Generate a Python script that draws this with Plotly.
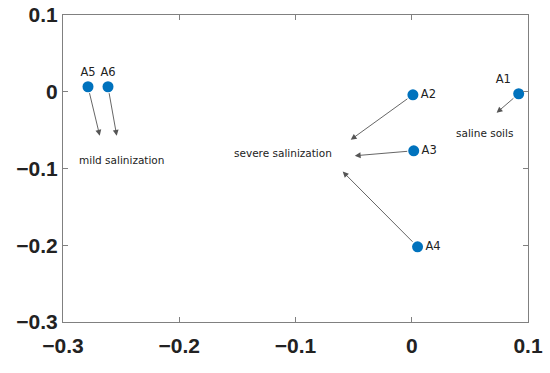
import plotly.graph_objects as go

# Sample points
names = ["A1", "A2", "A3", "A4", "A5", "A6"]
x_vals = [0.092, 0.001, 0.0017, 0.005, -0.2785, -0.2613]
y_vals = [-0.0026, -0.004, -0.0769, -0.202, 0.0065, 0.0065]

# Arrow heads (one per sample)
head_x = [0.073, -0.0525, -0.049, -0.0594, -0.2684, -0.2538]
head_y = [-0.0274, -0.0625, -0.0834, -0.104, -0.0573, -0.0573]

# Group labels
group_text = ["saline soils", "severe salinization", "mild salinization"]
group_x = [0.0628, -0.111, -0.2495]
group_y = [-0.0534, -0.0795, -0.0886]

x_ticks = [-0.3, -0.2, -0.1, 0, 0.1]
x_ticktext = ["\u22120.3", "\u22120.2", "\u22120.1", "0", "0.1"]
y_ticks = [-0.3, -0.2, -0.1, 0, 0.1]
y_ticktext = ["\u22120.3", "\u22120.2", "\u22120.1", "0", "0.1"]

label_pos = ["top left", "middle right", "middle right", "middle right", "top center", "top center"]

fig = go.Figure()
fig.add_trace(go.Scatter(
    x=x_vals, y=y_vals, mode="markers+text",
    text=names, textposition=label_pos,
    textfont=dict(family="DejaVu Sans", size=11.5, color="#222"),
    marker=dict(size=11, color="#0072BD"),
    cliponaxis=False, showlegend=False, hoverinfo="skip",
))

for hx, hy, tx, ty in zip(head_x, head_y, x_vals, y_vals):
    fig.add_annotation(
        x=hx, y=hy, ax=tx, ay=ty, xref="x", yref="y", axref="x", ayref="y",
        showarrow=True, arrowhead=2, arrowsize=1.3, arrowwidth=0.9,
        arrowcolor="#555555", text="", standoff=0, startstandoff=5,
    )

for t, gx, gy in zip(group_text, group_x, group_y):
    fig.add_annotation(
        x=gx, y=gy, xref="x", yref="y", text=t, showarrow=False,
        font=dict(family="DejaVu Sans", size=10.5, color="#222"),
    )

axis_common = dict(
    showgrid=False, zeroline=False, showline=True, linecolor="#808080",
    linewidth=1, mirror="ticks", ticks="inside", ticklen=5, tickcolor="#808080",
    tickwidth=1,
    tickfont=dict(family="Liberation Sans", size=21, color="#222", weight="bold"),
    automargin=False,
)

fig.update_xaxes(range=[-0.3, 0.1], tickvals=x_ticks, ticktext=x_ticktext, ticklabelstandoff=5, **axis_common)
fig.update_yaxes(range=[-0.3, 0.1], tickvals=y_ticks, ticktext=y_ticktext, ticklabelstandoff=0, **axis_common)

fig.update_layout(
    width=550, height=373,
    margin=dict(l=63, r=22, t=15, b=51),
    paper_bgcolor="white", plot_bgcolor="white",
)

fig.write_html(
    "out.html",
    config={"displayModeBar": False},
    post_script="document.body.style.margin='0';document.body.style.overflow='hidden';",
)
